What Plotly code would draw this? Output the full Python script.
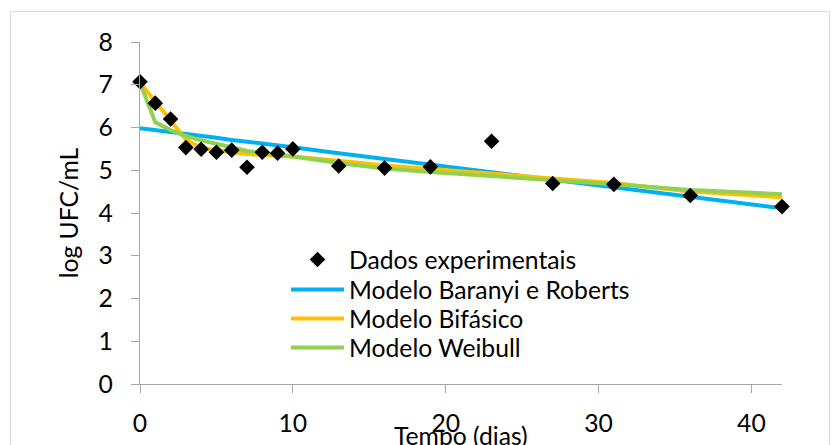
import plotly.graph_objects as go

# Survival data (log UFC/mL vs days) and fitted model curves at the same times
tempo = [0, 1, 2, 3, 4, 5, 6, 7, 8, 9, 10, 13, 16, 19, 23, 27, 31, 36, 42]
dados = [7.07, 6.57, 6.20, 5.53, 5.49, 5.42, 5.47, 5.07, 5.42, 5.40, 5.50,
         5.10, 5.05, 5.08, 5.68, 4.69, 4.67, 4.41, 4.15]
baranyi = [5.98, 5.94, 5.89, 5.85, 5.80, 5.76, 5.71, 5.67, 5.62, 5.58, 5.54,
           5.40, 5.27, 5.13, 4.96, 4.78, 4.60, 4.38, 4.11]
bifasico = [7.05, 6.60, 6.18, 5.72, 5.52, 5.46, 5.42, 5.38, 5.36, 5.34, 5.32,
            5.22, 5.11, 5.03, 4.93, 4.81, 4.70, 4.50, 4.37]
weibull = [7.05, 6.12, 5.94, 5.80, 5.70, 5.62, 5.52, 5.45, 5.40, 5.36, 5.32,
           5.17, 5.04, 4.96, 4.87, 4.77, 4.67, 4.54, 4.44]

x_ticks = [0, 10, 20, 30, 40]
y_ticks = [0, 1, 2, 3, 4, 5, 6, 7, 8]

FONT = "Lato"
FS = 24.7
W, H = 832, 445
L, R, T, B = 140, 50, 42, 61

fig = go.Figure()
fig.add_trace(go.Scatter(
    x=tempo, y=baranyi, mode="lines", name="Modelo Baranyi e Roberts",
    line=dict(color="#00B0F0", width=4), legend="legend2",
))
fig.add_trace(go.Scatter(
    x=tempo, y=bifasico, mode="lines", name="Modelo Bifásico",
    line=dict(color="#FFC000", width=4), legend="legend3",
))
fig.add_trace(go.Scatter(
    x=tempo, y=weibull, mode="lines", name="Modelo Weibull",
    line=dict(color="#92D050", width=4), legend="legend4",
))
# points drawn last so they sit on top of the curves
fig.add_trace(go.Scatter(
    x=tempo, y=dados, mode="markers", name="Dados experimentais",
    marker=dict(symbol="diamond", size=12, color="black"),
    cliponaxis=False, legend="legend",
))

pw = W - L - R
ph = H - T - B

def px_x(p):
    return (p - L) / pw

def px_y(p):
    return (H - B - p) / ph

def legend_row(yc):
    # one legend box per entry, centred on its row
    return dict(
        x=px_x(286), y=px_y(yc), xanchor="left", yanchor="middle",
        bgcolor="rgba(0,0,0,0)", itemwidth=53,
        font=dict(family=FONT, size=FS, color="black"),
    )

fig.update_layout(
    width=W, height=H,
    margin=dict(l=L, r=R, t=T, b=B, pad=0, autoexpand=False),
    paper_bgcolor="white", plot_bgcolor="white",
    font=dict(family=FONT, size=FS, color="black"),
    showlegend=True,
    legend=legend_row(260),
    legend2=legend_row(290),
    legend3=legend_row(319),
    legend4=legend_row(348),
    xaxis=dict(
        range=[0, 42], tickvals=x_ticks, showgrid=False, zeroline=False,
        showline=True, linecolor="#A6A6A6", linewidth=1.3,
        ticks="outside", ticklen=8, tickcolor="#A6A6A6", tickwidth=1.3,
        ticklabelstandoff=9, automargin=False,
    ),
    yaxis=dict(
        range=[0, 8], tickvals=y_ticks, showgrid=False, zeroline=False,
        showline=True, linecolor="#A6A6A6", linewidth=1.3,
        ticks="outside", ticklen=8, tickcolor="#A6A6A6", tickwidth=1.3,
        ticklabelstandoff=13, automargin=False,
        title=dict(text="log UFC/mL", standoff=12,
                   font=dict(family=FONT, size=FS)),
    ),
    # x-axis title sits low, right under the tick labels
    annotations=[dict(
        text="Tempo (dias)", xref="paper", yref="paper",
        x=0.5, y=px_y(435), xanchor="center", yanchor="middle",
        showarrow=False, font=dict(family=FONT, size=FS, color="black"),
    )],
    shapes=[dict(
        type="rect", xref="paper", yref="paper",
        x0=px_x(10.5), x1=px_x(829.5), y0=px_y(460), y1=px_y(11.5),
        line=dict(color="#D9D9D9", width=1), fillcolor="rgba(0,0,0,0)",
        layer="below",
    )],
)

fig.write_html("out.html")
